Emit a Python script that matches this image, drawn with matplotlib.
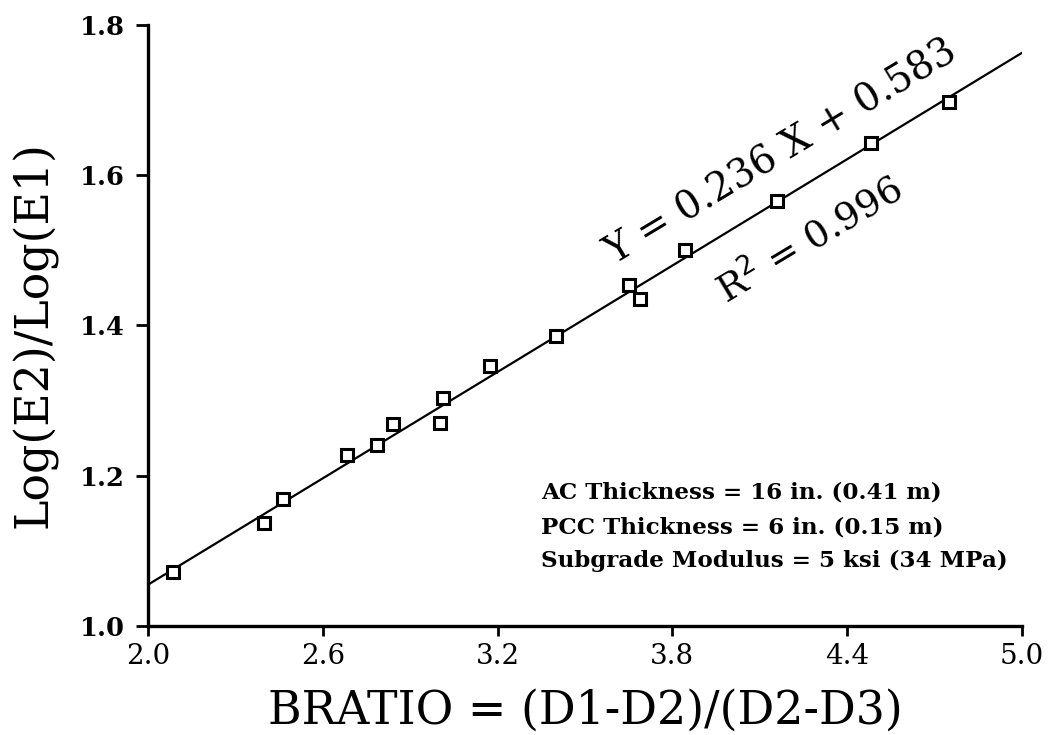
import numpy as np
import matplotlib
matplotlib.use('Agg')
import matplotlib.pyplot as plt

# data
bratio = [2.086, 2.398, 2.463, 2.683, 2.786, 2.841, 3.002, 3.014,
          3.174, 3.400, 3.652, 3.689, 3.843, 4.158, 4.482, 4.749]
log_ratio = [1.072, 1.137, 1.169, 1.228, 1.241, 1.269, 1.270, 1.303,
             1.346, 1.386, 1.454, 1.435, 1.501, 1.566, 1.643, 1.698]

fit_slope = 0.236
fit_intercept = 0.583
fit_x = [2.0, 5.0]

x_ticks = [2.0, 2.6, 3.2, 3.8, 4.4, 5.0]
y_ticks = [1.0, 1.2, 1.4, 1.6, 1.8]

notes = ['AC Thickness = 16 in. (0.41 m)',
         'PCC Thickness = 6 in. (0.15 m)',
         'Subgrade Modulus = 5 ksi (34 MPa)']


def main():
    plt.rcParams['font.family'] = ['DejaVu Serif']
    fig = plt.figure(figsize=(10.52, 7.35), dpi=100)
    ax = fig.add_axes([0.1407, 0.1483, 0.8308, 0.8177])

    fx = np.array(fit_x)
    ax.plot(fx, fit_slope * fx + fit_intercept, color='black', lw=1.6)
    ax.plot(bratio, log_ratio, linestyle='none', marker='s', ms=8.5,
            mfc='white', mec='black', mew=2.2)

    ax.set_xlim(2.0, 5.0)
    ax.set_ylim(1.0, 1.8)
    ax.set_xticks(x_ticks)
    ax.set_yticks(y_ticks)
    ax.set_xticklabels([f'{v:.1f}' for v in x_ticks], fontsize=20)
    ax.set_yticklabels([f'{v:.1f}' for v in y_ticks],
                       fontsize=18.5, fontweight='bold')

    for side in ['top', 'right']:
        ax.spines[side].set_visible(False)
    for side in ['left', 'bottom']:
        ax.spines[side].set_linewidth(2.4)
    ax.tick_params(axis='x', direction='out', length=7.5, width=2, pad=5)
    ax.tick_params(axis='y', direction='out', length=9, width=2, pad=8)

    ax.set_xlabel('BRATIO = (D1-D2)/(D2-D3)', fontsize=33)
    ax.xaxis.set_label_coords(0.5, -0.104)
    ax.set_ylabel('Log(E2)/Log(E1)', fontsize=33)
    ax.yaxis.set_label_coords(-0.103, 0.485)

    ax.text(3.60, 1.480, 'Y = 0.236 X + 0.583', fontsize=28,
            rotation=31, rotation_mode='anchor', ha='left', va='baseline')
    ax.text(3.985, 1.428, r'R$^2$ = 0.996', fontsize=27,
            rotation=31, rotation_mode='anchor', ha='left', va='baseline')

    note_y = [1.178, 1.131, 1.086]
    for txt, yy in zip(notes, note_y):
        ax.text(3.349, yy, txt, fontsize=16.6, fontweight='bold',
                ha='left', va='center')

    fig.savefig('out.png', dpi=100)


if __name__ == '__main__':
    main()
